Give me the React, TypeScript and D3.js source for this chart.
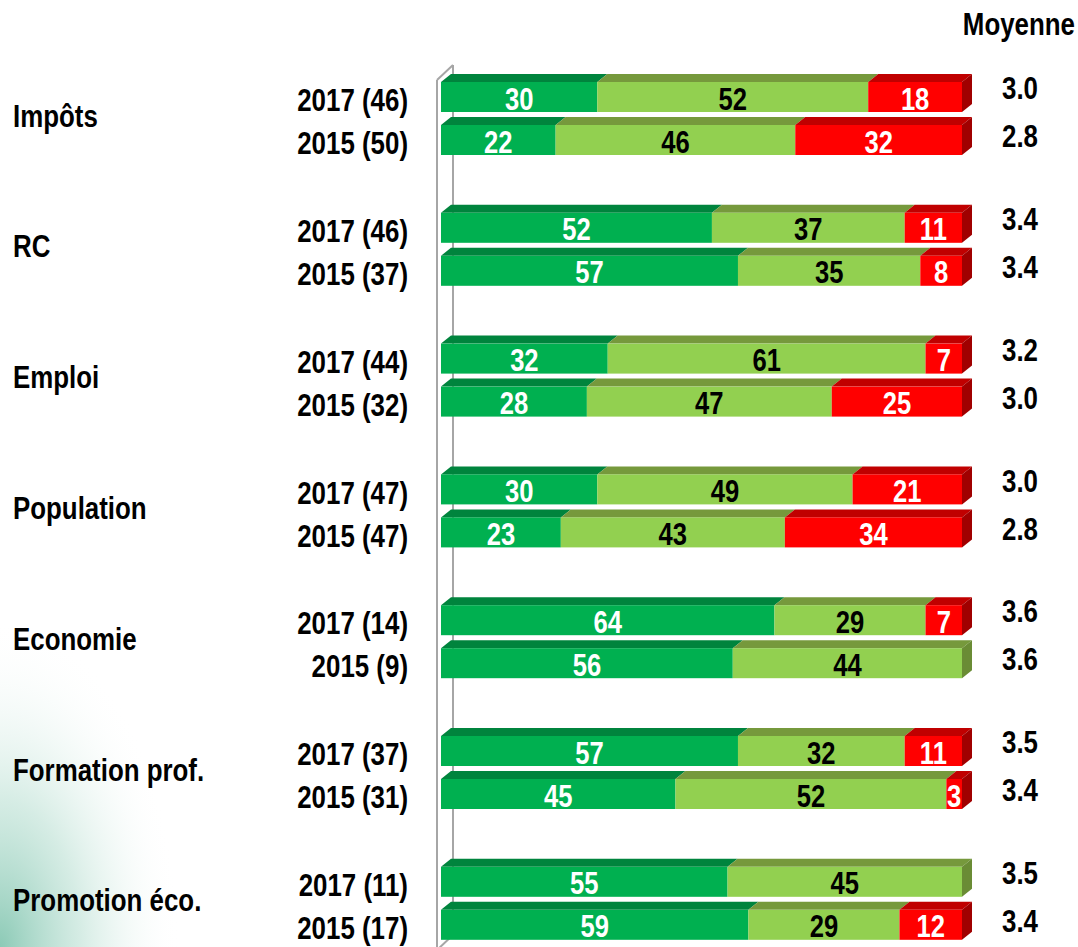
import React from "react";
import * as d3 from "d3";

const categories = ["Impôts", "RC", "Emploi", "Population", "Economie", "Formation prof.", "Promotion éco."];
const labels2017 = ["2017 (46)", "2017 (46)", "2017 (44)", "2017 (47)", "2017 (14)", "2017 (37)", "2017 (11)"];
const labels2015 = ["2015 (50)", "2015 (37)", "2015 (32)", "2015 (47)", "2015 (9)", "2015 (31)", "2015 (17)"];
const good2017 = [30, 52, 32, 30, 64, 57, 55];
const mid2017 = [52, 37, 61, 49, 29, 32, 45];
const bad2017 = [18, 11, 7, 21, 7, 11, 0];
const good2015 = [22, 57, 28, 23, 56, 45, 59];
const mid2015 = [46, 35, 47, 43, 44, 52, 29];
const bad2015 = [32, 8, 25, 34, 0, 3, 12];
const mean2017 = ["3.0", "3.4", "3.2", "3.0", "3.6", "3.5", "3.5"];
const mean2015 = ["2.8", "3.4", "3.0", "2.8", "3.6", "3.4", "3.4"];
const keys = ["good", "mid", "bad"];

const W = 1078, H = 947;
const FONT = "'Liberation Sans', Arial, sans-serif";
const barH = 30, barGap = 43, DX = 10, DY = 8;

const colors: Record<string, { front: string; top: string; side: string; text: string }> = {
  good: { front: "#00B050", top: "#00843D", side: "#00703A", text: "#FFFFFF" },
  mid: { front: "#92D050", top: "#76993C", side: "#6A8C35", text: "#000000" },
  bad: { front: "#FF0000", top: "#C00000", side: "#A00000", text: "#FFFFFF" },
};

function Txt({ x, y, anchor = "start", size = 31, sx = 0.835, fill = "#000", children }: any) {
  return (
    <text
      transform={`translate(${x},${y}) scale(${sx},1)`}
      textAnchor={anchor}
      dy="0.36em"
      fontFamily={FONT}
      fontWeight="bold"
      fontSize={size}
      fill={fill}
    >
      {children}
    </text>
  );
}

export default function App() {
  const x = d3.scaleLinear().domain([0, 100]).range([441, 962]);
  const yBand = d3.scaleBand().domain(categories).range([82, 82 + 130.8 * 7]);

  const rows: any[] = [];
  categories.forEach((c, i) => {
    rows.push({ cat: c, label: labels2017[i], good: good2017[i], mid: mid2017[i], bad: bad2017[i], mean: mean2017[i], y: yBand(c)!, meanOff: -9 });
    rows.push({ cat: c, label: labels2015[i], good: good2015[i], mid: mid2015[i], bad: bad2015[i], mean: mean2015[i], y: yBand(c)! + barGap, meanOff: -4 });
  });
  const series = d3.stack<any>().keys(keys)(rows);

  const wallTop = 65, wallBot = 935;

  return (
    <svg width={W} height={H} style={{ position: "absolute", left: 0, top: 0 }} xmlns="http://www.w3.org/2000/svg">
      <defs>
        <radialGradient id="glow" cx="0" cy="1" r="1" gradientUnits="objectBoundingBox">
          <stop offset="0" stopColor="#7fc4ae" stopOpacity="0.9" />
          <stop offset="0.45" stopColor="#b4ddcf" stopOpacity="0.55" />
          <stop offset="1" stopColor="#ffffff" stopOpacity="0" />
        </radialGradient>
      </defs>
      <rect x={0} y={0} width={W} height={H} fill="#fff" />
      <rect x={0} y={620} width={180} height={327} fill="url(#glow)" />

      {/* wall */}
      <g stroke="#a6a6a6" strokeWidth={2} fill="none">
        <line x1={437} y1={80} x2={437} y2={H + 5} />
        <line x1={453} y1={wallTop} x2={453} y2={wallBot} />
        <line x1={437} y1={80} x2={453} y2={wallTop} />
        <line x1={437} y1={wallBot + 15} x2={453} y2={wallBot} />
      </g>

      {/* bars */}
      {rows.map((r, ri) => {
        const segs = keys
          .map((k, ki) => ({ k, v: r[k], a: series[ki][ri][0], b: series[ki][ri][1] }))
          .filter((s) => s.v > 0);
        const last = segs[segs.length - 1];
        const yt = r.y;
        return (
          <g key={ri}>
            {segs.map((s) => {
              const xa = x(s.a), xb = x(s.b);
              const c = colors[s.k];
              return (
                <g key={s.k}>
                  <polygon
                    points={`${xa},${yt} ${xb},${yt} ${xb + DX},${yt - DY} ${xa + DX},${yt - DY}`}
                    fill={c.top}
                  />
                  <rect x={xa} y={yt} width={xb - xa} height={barH} fill={c.front} />
                </g>
              );
            })}
            {last && (
              <polygon
                points={`${x(last.b)},${yt} ${x(last.b) + DX},${yt - DY} ${x(last.b) + DX},${yt - DY + barH} ${x(last.b)},${yt + barH}`}
                fill={colors[last.k].side}
              />
            )}
            {segs.map((s) => (
              <Txt key={"t" + s.k} x={(x(s.a) + x(s.b)) / 2} y={yt + barH / 2 + 1} anchor="middle" size={32} sx={0.8} fill={colors[s.k].text}>
                {s.v}
              </Txt>
            ))}
            <Txt x={408} y={yt + barH / 2 + 3} anchor="end">{r.label}</Txt>
            <Txt x={1002} y={yt + barH / 2 + r.meanOff} anchor="start">{r.mean}</Txt>
          </g>
        );
      })}

      {categories.map((c) => (
        <Txt key={c} x={13} y={yBand(c)! + (barGap + barH) / 2 - 3} anchor="start">{c}</Txt>
      ))}

      <Txt x={1075} y={24} anchor="end">Moyenne</Txt>
    </svg>
  );
}
